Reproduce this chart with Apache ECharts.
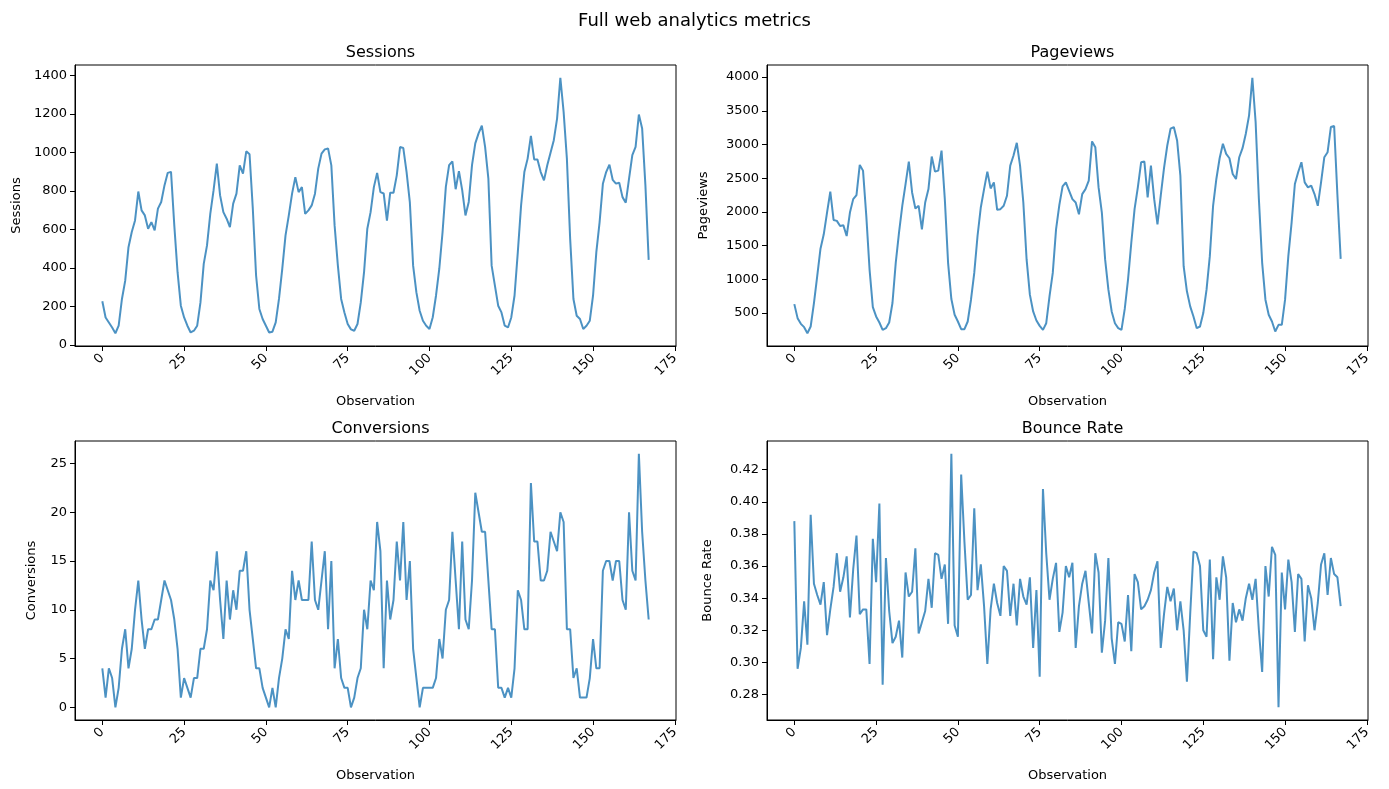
<!DOCTYPE html>
<html><head><meta charset="utf-8">
<script src="https://cdn.jsdelivr.net/npm/echarts@6/dist/echarts.min.js"></script>
<style>html,body{margin:0;padding:0;background:#fff}#c{width:1389px;height:789px}</style>
</head><body><div id="c"></div>
<script>
const sessions = [226,142,116,90,60,99,238,333,507,586,646,796,698,672,603,637,594,707,742,828,893,898,620,377,203,142,99,64,73,99,220,420,516,680,802,941,776,689,655,611,733,785,932,889,1005,990,707,360,186,134,99,64,68,116,238,394,568,672,785,871,793,819,680,698,724,785,915,993,1015,1020,932,620,411,238,168,108,80,73,108,220,377,603,689,819,893,
793,786,645,790,790,880,1027,1022,897,740,411,272,177,125,99,82,143,256,395,586,820,933,953,808,902,803,672,742,933,1046,1098,1138,1028,863,411,307,203,168,99,90,142,256,481,724,897,967,1085,963,962,897,854,933,998,1063,1175,1387,1210,967,550,238,151,134,82,99,125,256,481,637,836,897,936,857,837,842,767,738,863,985,1028,1196,1124,828,441];
const pageviews = [631,423,338,289,199,299,647,1045,1453,1667,1990,2299,1880,1866,1791,1800,1642,1990,2189,2249,2697,2612,1940,1144,587,448,358,249,274,358,647,1244,1691,2090,2413,2746,2288,2050,2090,1741,2139,2338,2821,2597,2612,2910,2189,1244,706,473,373,259,259,373,696,1094,1642,2065,2338,2597,2348,2438,2030,2040,2090,2239,2687,2836,3025,2687,2139,1294,771,522,388,308,249,348,746,1094,1741,2100,2378,2438,2313,2189,
2139,1965,2264,2338,2463,3045,2960,2363,1990,1294,846,522,348,274,249,560,995,1542,2040,2363,2736,2746,2214,2687,2189,1816,2240,2650,2985,3234,3259,3060,2537,1194,821,597,448,274,299,498,846,1343,2090,2488,2796,3010,2860,2796,2562,2488,2811,2945,3159,3433,3990,3333,2189,1244,697,473,373,224,323,323,697,1343,1841,2413,2587,2736,2438,2363,2388,2264,2090,2438,2811,2885,3259,3274,2250,1303];
const conversions = [4,1,4,3,0,2,6,8,4,6,10,13,9,6,8,8,9,9,11,13,12,11,9,6,1,3,2,1,3,3,6,6,8,13,12,16,11,7,13,9,12,10,14,14,16,10,7,4,4,2,1,0,2,0,3,5,8,7,14,11,13,11,11,11,17,11,10,13,16,8,15,4,7,3,2,2,0,1,3,4,10,8,13,12,19,16,4,
13,9,11,17,13,19,11,15,6,3,0,2,2,2,2,3,7,5,10,11,18,13,8,17,9,8,13,22,20,18,18,13,8,8,2,2,1,2,1,4,12,11,8,8,23,17,17,13,13,14,18,17,16,20,19,8,8,3,4,1,1,1,3,7,4,4,14,15,15,13,15,15,11,10,20,14,13,26,18,13,9];
const bounceRate = [0.388,0.296,0.309,0.338,0.311,0.392,0.349,0.342,0.336,0.350,0.317,0.333,0.347,0.368,0.344,0.353,0.366,0.328,0.358,0.379,0.330,0.333,0.333,0.299,0.377,0.350,0.399,0.286,0.365,0.332,0.312,0.316,0.326,0.303,0.356,0.341,0.344,0.371,0.318,0.325,0.332,0.352,0.334,0.368,0.367,0.352,0.361,0.324,0.430,0.323,0.316,0.417,0.375,0.339,0.342,0.396,0.345,0.361,0.335,0.299,0.333,0.349,0.337,0.329,0.360,0.357,0.329,0.349,0.323,0.352,0.341,0.336,0.353,0.309,0.345,0.291,0.408,0.368,0.339,0.352,0.362,0.319,0.331,0.360,0.353,0.362,
0.309,0.335,0.349,0.357,0.337,0.318,0.368,0.356,0.306,0.326,0.365,0.315,0.299,0.325,0.324,0.313,0.342,0.307,0.355,0.350,0.333,0.335,0.339,0.345,0.356,0.363,0.309,0.330,0.347,0.338,0.346,0.320,0.338,0.320,0.288,0.330,0.369,0.368,0.360,0.320,0.316,0.364,0.302,0.353,0.339,0.366,0.353,0.301,0.337,0.325,0.333,0.326,0.340,0.349,0.339,0.352,0.320,0.294,0.360,0.341,0.372,0.367,0.272,0.356,0.333,0.364,0.350,0.319,0.355,0.352,0.313,0.348,0.340,0.320,0.337,0.361,0.368,0.342,0.365,0.355,0.353,0.335];
const xTicks = [0,25,50,75,100,125,150,175];
const sessionTicks = [0,200,400,600,800,1000,1200,1400];
const pageviewTicks = [0,500,1000,1500,2000,2500,3000,3500,4000];
const conversionTicks = [0,5,10,15,20,25];
const bounceTicks = [0.28,0.30,0.32,0.34,0.36,0.38,0.40,0.42];
const titles = ['Sessions','Pageviews','Conversions','Bounce Rate'];
const series = [sessions,pageviews,conversions,bounceRate];
const tickSets = [sessionTicks,pageviewTicks,conversionTicks,bounceTicks];

function range(arr){const mn=Math.min(...arr),mx=Math.max(...arr),p=(mx-mn)*0.05;return [mn-p,mx+p];}
const grids=[{left:75,top:65,width:601,height:281},{left:767,top:65,width:601,height:281},{left:75,top:441,width:601,height:279},{left:767,top:441,width:601,height:279}];
const yGaps=[52,57,37,53];
const font='DejaVu Sans';
const opt={animation:false,textStyle:{fontFamily:font},
 title:[{text:'Full web analytics metrics',left:'center',top:7,textStyle:{fontSize:18,fontWeight:'normal',color:'#000',fontFamily:font}}],
 grid:[],xAxis:[],yAxis:[],series:[]};
for(let k=0;k<4;k++){
 const g=grids[k];
 opt.grid.push(Object.assign({show:true,borderColor:'#000',borderWidth:1,backgroundColor:'transparent'},g));
 opt.title.push({text:titles[k],left:g.left+g.width/2,top:g.top-25,textAlign:'center',textStyle:{fontSize:16,fontWeight:'normal',color:'#000',fontFamily:font}});
 const data=series[k].map((v,i)=>[i,v]);
 const r=range(series[k]);
 const n=series[k].length-1;
 opt.xAxis.push({type:'value',gridIndex:k,min:-n*0.05,max:n*1.05,name:'Observation',nameLocation:'middle',nameGap:49,
  nameTextStyle:{fontSize:13,color:'#000'},splitLine:{show:false},
  axisLine:{show:true,onZero:false,lineStyle:{color:'#000'}},
  axisTick:{show:true,length:5,lineStyle:{color:'#000'},customValues:xTicks},
  axisLabel:{rotate:45,fontSize:13,color:'#000',margin:10,customValues:xTicks,formatter:v=>String(v)}});
 const tks=tickSets[k];
 opt.yAxis.push({type:'value',gridIndex:k,min:r[0],max:r[1],name:titles[k],nameLocation:'middle',nameGap:yGaps[k],
  nameTextStyle:{fontSize:13,color:'#000'},splitLine:{show:false},
  axisLine:{show:true,onZero:false,lineStyle:{color:'#000'}},
  axisTick:{show:true,length:5,lineStyle:{color:'#000'},customValues:tks},
  axisLabel:{fontSize:13,color:'#000',margin:8,customValues:tks,formatter:v=>k===3?v.toFixed(2):String(v)}});
 opt.series.push({type:'line',xAxisIndex:k,yAxisIndex:k,data:data,showSymbol:false,
  lineStyle:{color:'#1f77b4',width:2,opacity:0.8},itemStyle:{color:'#1f77b4'}});
}
echarts.init(document.getElementById('c')).setOption(opt);
</script></body></html>
